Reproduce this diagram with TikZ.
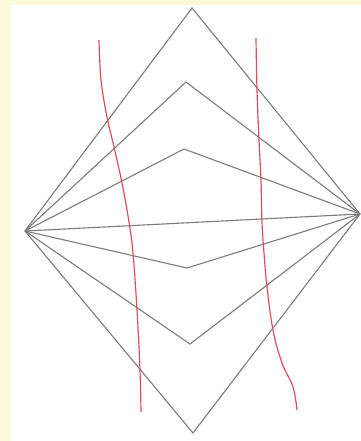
\documentclass[tikz,border=0pt]{standalone}
\usepackage{tikz}
\usetikzlibrary{calc}

\definecolor{paper}{RGB}{255,250,220}
\definecolor{wire}{RGB}{125,125,125}
\definecolor{thread}{RGB}{226,72,96}

\begin{document}
\begin{tikzpicture}[x=0.03cm,y=-0.03cm]
           \fill[paper] (0,0) rectangle (361,441);
           \fill[white] (11,5) rectangle (361,441);
           \useasboundingbox (0,0) rectangle (361,441);

           \coordinate (L) at (25,231);
           \coordinate (R) at (360,214);
           \coordinate (T1) at (192,8);
           \coordinate (T2) at (186,82);
           \coordinate (T3) at (184,149);
           \coordinate (B3) at (187,268);
           \coordinate (B2) at (190,344);
           \coordinate (B1) at (193,433);

           \foreach \v in {T1,T2,T3,B3,B2,B1}{
             \draw[wire,line width=0.95pt] (L) -- (\v) -- (R);
           }
           \draw[wire,line width=0.95pt] (L) -- (R);

           % the two red threads
           \draw[thread,line width=1pt] plot[smooth,tension=0.6] coordinates
             {(99,40) (101,80) (107,117) (114,147) (122,183) (129,222) (133,253) (137,310) (140,370) (141,412)};
           \draw[thread,line width=1pt] plot[smooth,tension=0.6] coordinates
             {(256,38) (257,90) (259,140) (261,180) (262,222) (264,253) (267,287) (273,330) (282,363) (293,387) (297,410)};
         \end{tikzpicture}
\end{document}
